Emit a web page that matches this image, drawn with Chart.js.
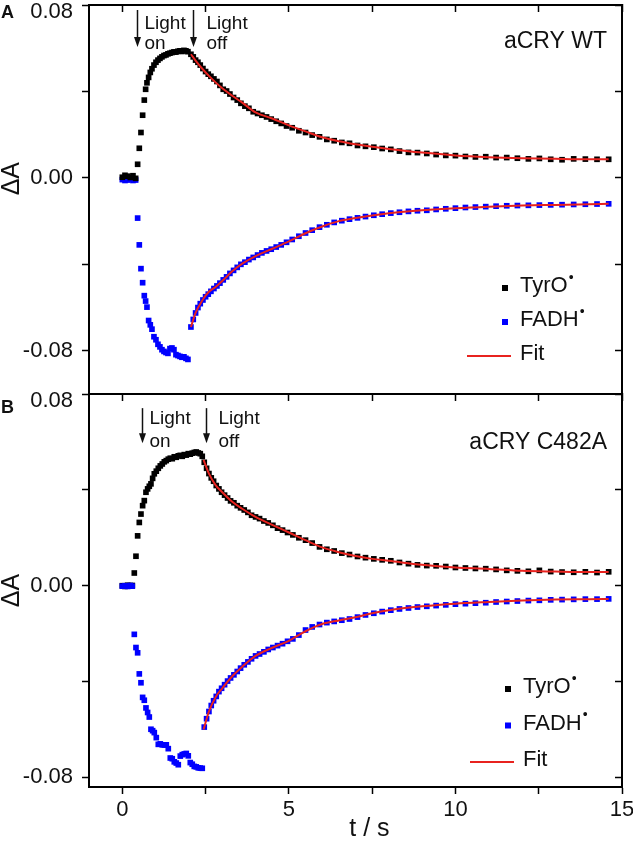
<!DOCTYPE html>
<html lang="en">
<head>
<meta charset="UTF-8">
<title>aCRY WT / C482A transient absorption</title>
<script src="https://cdn.jsdelivr.net/npm/chart.js@4"></script>
<style>
  html, body { margin: 0; padding: 0; background: #fff; }
  #page { position: relative; width: 633px; height: 843px; overflow: hidden; }
  #page canvas { position: absolute; left: 0; }
  #chartA { top: 0; }
  #chartB { top: 390px; }
</style>
</head>
<body>
<div id="page">
  <canvas id="chartA" width="633" height="404"></canvas>
  <canvas id="chartB" width="633" height="453"></canvas>
</div>
<script>
// ---- panel A: aCRY WT ----
const tA = [0.00, 0.08, 0.16, 0.24, 0.32, 0.40,
  0.46, 0.51, 0.56, 0.61, 0.66, 0.70, 0.74, 0.79, 0.84, 0.89, 0.95, 1.01, 1.07, 1.13,
  1.19, 1.25, 1.31, 1.37, 1.43, 1.49, 1.55, 1.61, 1.67, 1.73, 1.79, 1.85, 1.91, 1.97,
  2.06, 2.13, 2.20, 2.27, 2.34, 2.42, 2.50, 2.58, 2.66, 2.75, 2.84, 2.93, 3.03, 3.13,
  3.23, 3.34, 3.45, 3.56, 3.68, 3.80, 3.93, 4.06, 4.19, 4.33, 4.47, 4.62, 4.77, 4.93,
  5.10, 5.30, 5.50, 5.70, 5.92, 6.14, 6.36, 6.59, 6.82, 7.06, 7.30, 7.55, 7.80, 8.06,
  8.32, 8.59, 8.86, 9.14, 9.42, 9.71, 10.00, 10.30, 10.60, 10.91, 11.22, 11.54, 11.86,
  12.19, 12.52, 12.86, 13.20, 13.55, 13.90, 14.25, 14.60];
const tyrA = [0.0003, 0.0012, 0.0008, 0.0002, 0.0010, -0.0002,
  0.0063, 0.0137, 0.0210, 0.0290, 0.0360, 0.0410, 0.0440, 0.0465, 0.0488, 0.0505, 0.0522, 0.0535, 0.0545, 0.0553,
  0.0560, 0.0566, 0.0569, 0.0574, 0.0577, 0.0580, 0.0583, 0.0582, 0.0586, 0.0588, 0.0585, 0.0590, 0.0588, 0.0584,
  0.0572, 0.0560, 0.0545, 0.0535, 0.0522, 0.0506, 0.0492, 0.0480, 0.0470, 0.0458, 0.0446, 0.0428, 0.0410, 0.0402,
  0.0388, 0.0372, 0.0360, 0.0345, 0.0332, 0.0322, 0.0306, 0.0298, 0.0290, 0.0282, 0.0272, 0.0262, 0.0252, 0.0240,
  0.0232, 0.0218, 0.0210, 0.0198, 0.0190, 0.0178, 0.0172, 0.0164, 0.0160, 0.0150, 0.0146, 0.0142, 0.0136, 0.0132,
  0.0124, 0.0118, 0.0117, 0.0113, 0.0108, 0.0104, 0.0103, 0.0099, 0.0097, 0.0098, 0.0094, 0.0094, 0.0091,
  0.0088, 0.0090, 0.0086, 0.0084, 0.0088, 0.0087, 0.0086, 0.0086];
const fadA = [-0.0008, -0.0012, -0.0010, -0.0006, -0.0012, -0.0010,
  -0.0186, -0.0310, -0.0420, -0.0485, -0.0545, -0.0570, -0.0598, -0.0660, -0.0680, -0.0700, -0.0735, -0.0749, -0.0770, -0.0782,
  -0.0795, -0.0803, -0.0808, -0.0812, -0.0790, -0.0787, -0.0795, -0.0818, -0.0822, -0.0826, -0.0830, -0.0828, -0.0835, -0.0840,
  -0.0690, -0.0655, -0.0625, -0.0600, -0.0582, -0.0565, -0.0550, -0.0538, -0.0525, -0.0512, -0.0500, -0.0487, -0.0472, -0.0458,
  -0.0442, -0.0428, -0.0414, -0.0400, -0.0390, -0.0378, -0.0368, -0.0357, -0.0347, -0.0338, -0.0330, -0.0320, -0.0310, -0.0298,
  -0.0285, -0.0270, -0.0255, -0.0242, -0.0228, -0.0217, -0.0206, -0.0198, -0.0191, -0.0185, -0.0179, -0.0173, -0.0168, -0.0163,
  -0.0159, -0.0155, -0.0152, -0.0150, -0.0146, -0.0143, -0.0140, -0.0137, -0.0135, -0.0133, -0.0131, -0.0129, -0.0128,
  -0.0127, -0.0126, -0.0125, -0.0124, -0.0123, -0.0122, -0.0121, -0.0120];
const fitTA = [2.06, 2.2, 2.4, 2.6, 2.8, 3.0, 3.3, 3.6, 4.0, 4.5, 5.0, 5.5, 6.0, 6.5, 7.0, 7.5, 8.0, 9.0, 10.0, 11.0, 12.0, 13.0, 14.0, 14.6];
const fitTyrA = [0.0572, 0.0543, 0.0505, 0.0472, 0.0442, 0.0415, 0.0380, 0.0348, 0.0303, 0.0275, 0.0243, 0.0215,
  0.0188, 0.0170, 0.0156, 0.0144, 0.0134, 0.0117, 0.0104, 0.0096, 0.0091, 0.0088, 0.0086, 0.0086];
const fitFadA = [-0.0690, -0.0625, -0.0567, -0.0527, -0.0505, -0.0477, -0.0432, -0.0397, -0.0362, -0.0328, -0.0294, -0.0256,
  -0.0225, -0.0200, -0.0186, -0.0174, -0.0164, -0.0150, -0.0140, -0.0133, -0.0128, -0.0125, -0.0122, -0.0120];

// ---- panel B: aCRY C482A ----
const tB = [0.00, 0.08, 0.16, 0.24, 0.30,
  0.36, 0.41, 0.46, 0.51, 0.56, 0.61, 0.66, 0.71, 0.76, 0.81, 0.86, 0.91, 0.96, 1.02, 1.08,
  1.14, 1.20, 1.26, 1.32, 1.38, 1.44, 1.50, 1.56, 1.62, 1.68, 1.74, 1.80, 1.86, 1.92, 1.98,
  2.04, 2.10, 2.16, 2.22, 2.28, 2.34, 2.40,
  2.46, 2.53, 2.60, 2.67, 2.74, 2.82, 2.90, 2.98, 3.07, 3.16, 3.25, 3.35, 3.45, 3.55, 3.66,
  3.77, 3.88, 4.00, 4.12, 4.25, 4.38, 4.52, 4.66, 4.81, 4.96,
  5.12, 5.30, 5.50, 5.70, 5.92, 6.14, 6.36, 6.59, 6.82, 7.06, 7.30, 7.55, 7.80, 8.06,
  8.32, 8.59, 8.86, 9.14, 9.42, 9.71, 10.00, 10.30, 10.60, 10.91, 11.22, 11.54, 11.86,
  12.19, 12.52, 12.86, 13.20, 13.55, 13.90, 14.25, 14.60];
const tyrB = [0.0000, -0.0003, 0.0002, 0.0000, 0.0001,
  0.0053, 0.0123, 0.0208, 0.0264, 0.0299, 0.0334, 0.0355, 0.0390, 0.0404, 0.0415, 0.0425, 0.0448, 0.0467, 0.0478, 0.0490,
  0.0500, 0.0508, 0.0517, 0.0522, 0.0528, 0.0532, 0.0530, 0.0538, 0.0536, 0.0542, 0.0544, 0.0540, 0.0547, 0.0545, 0.0551,
  0.0549, 0.0553, 0.0556, 0.0558, 0.0554, 0.0551, 0.0540,
  0.0515, 0.0490, 0.0468, 0.0450, 0.0436, 0.0418, 0.0404, 0.0390, 0.0378, 0.0366, 0.0354, 0.0346, 0.0334, 0.0325, 0.0316,
  0.0306, 0.0294, 0.0287, 0.0280, 0.0270, 0.0262, 0.0252, 0.0240, 0.0232, 0.0222,
  0.0212, 0.0200, 0.0190, 0.0178, 0.0162, 0.0152, 0.0145, 0.0136, 0.0130, 0.0122, 0.0117, 0.0112, 0.0108, 0.0104,
  0.0097, 0.0092, 0.0087, 0.0084, 0.0083, 0.0080, 0.0076, 0.0074, 0.0072, 0.0071, 0.0068, 0.0064, 0.0062,
  0.0060, 0.0064, 0.0059, 0.0057, 0.0056, 0.0058, 0.0055, 0.0058];
const fadB = [-0.0002, 0.0000, -0.0003, 0.0001, -0.0002,
  -0.0203, -0.0258, -0.0280, -0.0368, -0.0405, -0.0466, -0.0478, -0.0510, -0.0529, -0.0548, -0.0599, -0.0605, -0.0613, -0.0634, -0.0662,
  -0.0660, -0.0664, -0.0665, -0.0664, -0.0680, -0.0719, -0.0722, -0.0735, -0.0740, -0.0747, -0.0711, -0.0705, -0.0702, -0.0700, -0.0710,
  -0.0738, -0.0745, -0.0754, -0.0756, -0.0760, -0.0761, -0.0762,
  -0.0590, -0.0555, -0.0525, -0.0500, -0.0480, -0.0462, -0.0442, -0.0428, -0.0413, -0.0398, -0.0385, -0.0372, -0.0358, -0.0344, -0.0330,
  -0.0318, -0.0305, -0.0293, -0.0285, -0.0276, -0.0266, -0.0258, -0.0250, -0.0242, -0.0232,
  -0.0222, -0.0206, -0.0185, -0.0172, -0.0162, -0.0154, -0.0149, -0.0144, -0.0139, -0.0131, -0.0122, -0.0115, -0.0108, -0.0102,
  -0.0097, -0.0093, -0.0089, -0.0086, -0.0083, -0.0080, -0.0077, -0.0075, -0.0073, -0.0071, -0.0068, -0.0066, -0.0064,
  -0.0062, -0.0061, -0.0059, -0.0058, -0.0057, -0.0056, -0.0056, -0.0055];
const fitTB = [2.44, 2.6, 2.8, 3.0, 3.3, 3.6, 4.0, 4.5, 5.0, 5.5, 6.0, 6.5, 7.0, 7.5, 8.0, 9.0, 10.0, 11.0, 12.0, 13.0, 14.0, 14.6];
const fitTyrB = [0.0525, 0.0468, 0.0420, 0.0390, 0.0350, 0.0321, 0.0287, 0.0254, 0.0222, 0.0190, 0.0160, 0.0140,
  0.0124, 0.0112, 0.0104, 0.0087, 0.0076, 0.0070, 0.0062, 0.0059, 0.0057, 0.0057];
const fitFadB = [-0.0600, -0.0525, -0.0465, -0.0428, -0.0378, -0.0338, -0.0293, -0.0259, -0.0230, -0.0190, -0.0160, -0.0145,
  -0.0132, -0.0115, -0.0102, -0.0086, -0.0075, -0.0068, -0.0062, -0.0058, -0.0056, -0.0055];

// axis ticks and which of them carry a label
const xTicks = [0, 2.5, 5, 7.5, 10, 12.5, 15];
const xLabels = [0, 5, 10, 15];
const yTicks = [-0.08, -0.04, 0.00, 0.04, 0.08];
const yLabels = [-0.08, 0.00, 0.08];

const FONT = '"Liberation Sans", Arial, sans-serif';
const INK = '#111';
const RED = '#e8231f';
const BLUE = '#0000ff';
Chart.defaults.font.family = FONT;
Chart.defaults.color = INK;

const pts = (t, v) => t.map((x, i) => ({x, y: v[i]}));
const near = (a, b) => Math.abs(a - b) < 1e-6;

const dots = (label, t, v, color) => ({
  label, data: pts(t, v), xAxisID: 'x', yAxisID: 'y',
  pointStyle: 'rect', pointRadius: 4, pointBorderWidth: 0,
  backgroundColor: color, borderColor: color, showLine: false
});
const fit = (t, v) => ({
  label: 'Fit', data: pts(t, v), xAxisID: 'x', yAxisID: 'y',
  showLine: true, pointRadius: 0, borderColor: RED, backgroundColor: RED,
  borderWidth: 2, cubicInterpolationMode: 'monotone'
});

function makeScales(yMin, yMax, showX, yTitle) {
  const useTicks = list => s => { s.ticks = list.map(value => ({value})); };
  const size = px => s => {
    s.paddingTop = s.paddingBottom = s.paddingLeft = s.paddingRight = 0;
    if (s.isHorizontal()) s.height = px; else s.width = px;
  };
  const border = {display: true, color: '#000', width: 2};
  const tickGrid = len => ({drawOnChartArea: false, drawTicks: len !== 0, tickLength: len, tickWidth: 1.5, tickColor: '#000'});
  const isTop = v => near(v, yMax);
  const yLabel = v => {
    const hit = yLabels.find(l => near(l, v));
    if (hit === undefined) return '';
    const s = hit.toFixed(2);
    return isTop(v) ? ['', s] : s;
  };
  return {
    x: {
      type: 'linear', position: 'bottom', min: -1, max: 15, border,
      grid: tickGrid(showX ? 7 : 0),
      ticks: {display: showX, padding: 3, font: {size: 22},
              callback: v => xLabels.some(l => near(l, v)) ? String(v) : ''},
      afterBuildTicks: useTicks(xTicks),
      title: {display: showX, text: '    t / s', font: {size: 25, lineHeight: 1}, padding: {top: 0, bottom: 1}},
      afterFit: size(showX ? 56 : 10)
    },
    x2: {
      type: 'linear', position: 'top', min: -1, max: 15, border,
      grid: tickGrid(-7), ticks: {display: false},
      afterBuildTicks: useTicks(xTicks), afterFit: size(0)
    },
    y: {
      type: 'linear', position: 'left', min: yMin, max: yMax, border,
      grid: tickGrid(7),
      ticks: {padding: 9, callback: yLabel,
              font: ctx => ({size: 22, lineHeight: ctx.tick && isTop(ctx.tick.value) ? 0.6 : 1.2})},
      afterBuildTicks: useTicks(yTicks),
      title: {display: true, text: yTitle, font: {size: 25, lineHeight: 1}, padding: {top: 0, bottom: 0}},
      afterFit: size(89)
    },
    y2: {
      type: 'linear', position: 'right', min: yMin, max: yMax, border,
      grid: tickGrid(-7), ticks: {display: false},
      afterBuildTicks: useTicks(yTicks), afterFit: size(0)
    }
  };
}

// panel letter, sample name, light on/off arrows and the legend
function decor(cfg) {
  return {
    id: 'decor',
    afterDatasetsDraw(chart) {
      const {ctx, scales: {x, y}} = chart;
      ctx.save();
      ctx.fillStyle = INK;
      ctx.strokeStyle = INK;
      ctx.textBaseline = 'alphabetic';

      ctx.font = `bold 18px ${FONT}`;
      ctx.textAlign = 'left';
      ctx.fillText(cfg.letter, 1, cfg.letterY);

      ctx.font = `23px ${FONT}`;
      ctx.textAlign = 'right';
      ctx.fillText(cfg.name, x.getPixelForValue(cfg.nameAt[0]), y.getPixelForValue(cfg.nameAt[1]));

      ctx.font = `19px ${FONT}`;
      ctx.textAlign = 'left';
      const top = y.getPixelForValue(cfg.arrowY[0]);
      const tip = y.getPixelForValue(cfg.arrowY[1]);
      cfg.arrows.forEach(a => {
        const px = Math.round(x.getPixelForValue(a.t)) + 0.5;
        ctx.lineWidth = 1.5;
        ctx.beginPath();
        ctx.moveTo(px, top);
        ctx.lineTo(px, tip - 6);
        ctx.stroke();
        ctx.beginPath();
        ctx.moveTo(px - 3.5, tip - 10);
        ctx.lineTo(px + 3.5, tip - 10);
        ctx.lineTo(px, tip);
        ctx.closePath();
        ctx.fill();
        a.text.forEach((s, i) => ctx.fillText(s, px + a.dx, y.getPixelForValue(cfg.textY[i])));
      });

      const L = cfg.legend;
      cfg.legendItems.forEach((it, i) => {
        const ds = chart.data.datasets[it.ds];
        const cy = L.y + i * L.dy;
        if (it.line) {
          ctx.strokeStyle = ds.borderColor;
          ctx.lineWidth = 2;
          ctx.beginPath();
          ctx.moveTo(L.x - 38, cy);
          ctx.lineTo(L.x + 6, cy);
          ctx.stroke();
        } else {
          ctx.fillStyle = ds.backgroundColor;
          ctx.fillRect(L.x - 3, cy - 3, 6, 6);
        }
        ctx.fillStyle = INK;
        ctx.font = `22px ${FONT}`;
        ctx.textBaseline = 'middle';
        ctx.fillText(it.label, L.tx, cy - 2);
        if (it.sup) {
          const w = ctx.measureText(it.label).width;
          ctx.font = `14px ${FONT}`;
          ctx.fillText('\u2022', L.tx + w + 1, cy - 10);
        }
      });
      ctx.restore();
    }
  };
}

function makeChart(id, datasets, yMin, yMax, showX, yTitle, padTop, deco) {
  return new Chart(document.getElementById(id), {
    type: 'scatter',
    data: {datasets},
    options: {
      responsive: false,
      animation: false,
      events: [],
      layout: {padding: {top: padTop, right: 11, bottom: 0, left: 0}},
      plugins: {legend: {display: false}, tooltip: {enabled: false}},
      scales: makeScales(yMin, yMax, showX, yTitle)
    },
    plugins: [decor(deco)]
  });
}

makeChart('chartA', [
  fit(fitTA, fitTyrA),
  fit(fitTA, fitFadA),
  dots('TyrO', tA, tyrA, '#000'),
  dots('FADH', tA, fadA, BLUE)
], -0.10, 0.08, false, '      \u0394A', 5, {
  letter: 'A', letterY: 18,
  name: 'aCRY WT', nameAt: [14.55, 0.0601],
  arrowY: [0.0777, 0.0606], textY: [0.0688, 0.0595],
  arrows: [{t: 0.43, dx: 7, text: ['Light', 'on']}, {t: 2.13, dx: 13, text: ['Light', 'off']}],
  legend: {x: 505, y: 288, dy: 34, tx: 520},
  legendItems: [{ds: 2, label: 'TyrO', sup: true}, {ds: 3, label: 'FADH', sup: true}, {ds: 0, label: 'Fit', line: true}]
});

makeChart('chartB', [
  fit(fitTB, fitTyrB),
  fit(fitTB, fitFadB),
  dots('FADH', tB, fadB, BLUE),
  dots('TyrO', tB, tyrB, '#000')
], -0.084, 0.08, true, '\u0394A', 4, {
  letter: 'B', letterY: 23,
  name: 'aCRY C482A', nameAt: [14.55, 0.0570],
  arrowY: [0.0741, 0.0594], textY: [0.0674, 0.0577],
  arrows: [{t: 0.58, dx: 7, text: ['Light', 'on']}, {t: 2.51, dx: 12, text: ['Light', 'off']}],
  legend: {x: 508, y: 299, dy: 36.5, tx: 523},
  legendItems: [{ds: 3, label: 'TyrO', sup: true}, {ds: 2, label: 'FADH', sup: true}, {ds: 0, label: 'Fit', line: true}]
});
</script>
</body>
</html>
